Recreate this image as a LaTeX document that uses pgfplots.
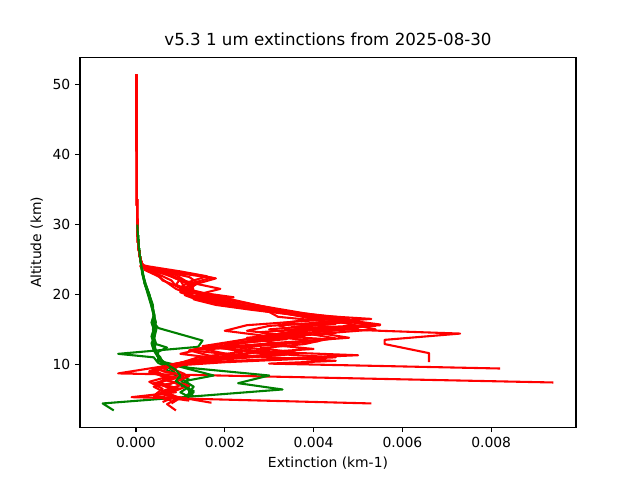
\documentclass[border=0pt]{standalone}
\usepackage{fontspec}
\setmainfont{DejaVu Sans}
\usepackage{pgfplots}
\pgfplotsset{compat=1.18}
\definecolor{mplgreen}{rgb}{0,0.5,0}
\begin{document}
\begin{tikzpicture}
\path[use as bounding box] (-57.6pt,-38.016pt) rectangle (403.2pt,307.584pt);
\begin{axis}[
    scale only axis,
    width=357.12pt, height=266.112pt,
    xmin=-0.00126, xmax=0.00991,
    ymin=1.0, ymax=53.9,
    scaled x ticks=false,
    xtick={0,0.002,0.004,0.006,0.008},
    xticklabels={0.000,0.002,0.004,0.006,0.008},
    ytick={10,20,30,40,50},
    xtick pos=bottom, ytick pos=left,
    tick align=outside, major tick length=3.5pt,
    tick style={black, line width=0.8pt},
    axis line style={line width=0.8pt},
    /pgf/number format/assume math mode=true,
    tick label style={font=\fontsize{10}{12}\selectfont},
    label style={font=\fontsize{10}{12}\selectfont},
    title style={font=\fontsize{12}{14}\selectfont, yshift=-1pt},
    title={v5.3 1 um extinctions from 2025-08-30},
    xlabel={Extinction (km-1)},
    ylabel={Altitude (km)},
    every axis plot/.append style={line width=1.5pt, no markers, line join=round},
]
% red profiles
\addplot[red] coordinates {(0.00001,51.5) (0.00001,45) (0.00002,40) (0.00002,35) (0.00003,30) (0.00005,27) (0.0001,25) (0.00015,24.2)
 (0.0003,24) (0.0010,23.3) (0.0016,22.6) (0.0012,21.8) (0.0010,21.0) (0.0014,20.3) (0.0022,19.6) (0.0016,19.0) (0.0022,18.3) (0.0035,17.2) (0.0053,16.5) (0.0042,16.0) (0.0030,15.5) (0.0025,14.8) (0.0036,14.0) (0.0025,13.2) (0.0018,12.5) (0.0024,11.8) (0.0014,11.0) (0.0010,10.2) (0.0006,9.5) (0.0004,8.8) (0.0007,8.0) (0.0005,7.2) (0.0008,6.5) (0.0006,5.8) (0.0009,5.0) (0.0007,4.3) (0.0009,3.4)};
\addplot[mplgreen] coordinates {(0.00003,30) (0.00006,27) (0.0001,25) (0.00015,23) (0.0002,21.5) (0.0003,20) (0.00038,18.5) (0.0004,17) (0.00035,16) (0.0004,15) (0.00038,14) (0.0004,13) (0.00045,12) (0.0005,11) (0.0006,10) (0.0007,9.2) (0.0009,8.5) (0.0010,7.8) (0.0011,7.0) (0.0012,6.2) (0.0012,5.5)};
\addplot[red] coordinates {(0.00001,51.5) (0.00001,45) (0.00002,40) (0.00002,35) (0.00003,30) (0.00005,27) (0.0001,25) (0.00015,24.2)
 (0.0004,23.5) (0.0009,22.8) (0.0011,22.0) (0.0013,21.2) (0.0012,20.5) (0.0016,19.6) (0.0025,18.4) (0.0040,16.9) (0.0055,15.6) (0.0045,15.2) (0.0040,14.6) (0.0048,13.8) (0.0030,13.0) (0.0020,12.4) (0.0028,11.6) (0.0045,11.0) (0.0020,10.3) (0.0006,9.7) (0.0003,9.0) (0.0008,8.2) (0.0005,7.4) (0.0009,6.6) (0.0006,5.9) (0.0010,5.2) (0.0008,4.4)};
\addplot[red] coordinates {(0.00001,51.5) (0.00001,45) (0.00002,40) (0.00002,35) (0.00003,30) (0.00005,27) (0.0001,25) (0.00015,24.2)
 (0.0003,23.8) (0.0007,23.0) (0.0010,22.2) (0.0009,21.4) (0.0012,20.6) (0.0011,19.9) (0.0014,19.2) (0.0022,18.4) (0.0030,17.5) (0.0032,16.8) (0.0045,16.0) (0.0035,15.3) (0.0055,14.8) (0.0073,14.4) (0.0056,13.5) (0.0056,12.9) (0.0066,11.6) (0.0066,10.3)};
\addplot[mplgreen] coordinates {(0.00003,30) (0.00006,27) (0.0001,25) (0.00015,23) (0.00022,21.5) (0.0003,20) (0.00036,18.5) (0.00042,17) (0.0004,16) (0.0005,15.2) (0.0015,13.4) (0.0014,12.5) (-0.0004,11.5) (0.0004,11.0) (0.0005,10.2) (0.0008,9.4) (0.0009,8.6) (0.0012,7.8) (0.0010,7.0) (0.0013,6.2) (0.0011,5.4)};
\addplot[red] coordinates {(0.00001,51.5) (0.00001,45) (0.00002,40) (0.00002,35) (0.00003,30) (0.00005,27) (0.0001,25) (0.00015,24.2)
 (0.0002,24) (0.0006,23.5) (0.0013,22.9) (0.0018,22.3) (0.0013,21.4) (0.0010,20.7) (0.0016,19.9) (0.0026,18.6) (0.0042,16.6) (0.0054,15.5) (0.0040,14.9) (0.0030,14.2) (0.0020,13.0) (0.0012,12.0) (0.0025,11.2) (0.0045,10.5) (0.0030,10.1) (0.0082,9.4)};
\addplot[red] coordinates {(0.00001,51.5) (0.00001,45) (0.00002,40) (0.00002,35) (0.00003,30) (0.00005,27) (0.0001,25) (0.00015,24.2)
 (0.0003,23.6) (0.0005,22.8) (0.0006,22.0) (0.0010,21.0) (0.0020,19.5) (0.0032,17.8) (0.0054,15.0) (0.0040,14.3) (0.0025,13.6) (0.0015,12.6) (0.0025,11.9) (0.0050,11.3) (0.0035,10.9) (0.0010,10.1) (-0.0004,8.7) (0.0094,7.4)};
\addplot[mplgreen] coordinates {(0.00003,30) (0.00006,27) (0.0001,25) (0.00016,23) (0.0002,21.5) (0.00028,20) (0.00035,18.5) (0.0004,17) (0.00045,16) (0.00038,15) (0.00042,14) (0.00035,13) (0.0004,12) (0.0005,11) (0.0005,10.5) (0.0012,9.5) (0.0030,8.4) (0.0023,7.3) (0.0033,6.4) (-0.00075,4.4) (-0.0005,3.4)};
\addplot[red] coordinates {(0.00001,51.5) (0.00001,45) (0.00002,40) (0.00002,35) (0.00003,30) (0.00005,27) (0.0001,25) (0.00015,24.2)
 (0.0001,24) (0.0004,23.2) (0.0008,22.0) (0.0009,21.2) (0.0012,20.3) (0.0024,18.8) (0.0038,17.3) (0.0050,16.2) (0.0035,15.3) (0.0045,14.5) (0.0030,13.8) (0.0020,12.8) (0.0030,12.0) (0.0020,11.0) (0.0010,10.0) (0.0008,9.0) (0.0011,8.0) (0.0007,7.0) (0.0009,6.0) (-0.0001,5.3) (0.0053,4.4)};
\addplot[red] coordinates {(0.00001,51.5) (0.00001,45) (0.00002,40) (0.00002,35) (0.00003,30) (0.00005,27) (0.0001,25) (0.00015,24.2)
 (0.0002,23.8) (0.0008,22.6) (0.0012,21.4) (0.0010,20.4) (0.0014,19.4) (0.0025,18.2) (0.0036,17.0) (0.0045,15.8) (0.0030,15.0) (0.0038,14.0) (0.0026,13.2) (0.0015,12.2) (0.0022,11.3) (0.0012,10.5) (0.0005,9.5) (0.0003,8.8) (0.0009,8.0) (0.0004,7.3) (0.0010,6.5) (0.0005,5.8) (0.0017,4.5)};
\addplot[mplgreen] coordinates {(0.00003,30) (0.00006,27) (0.0001,25) (0.00014,23) (0.0002,21.5) (0.00029,20) (0.00037,18.5) (0.0004,17) (0.00038,16) (0.00042,15) (0.0004,14) (0.00045,13) (0.0004,12) (0.00055,11) (0.0006,10.3) (0.00175,8.4) (0.0011,7.6) (0.0012,6.8) (0.0010,6.0) (0.0012,5.3)};
\addplot[red] coordinates {(0.00001,51.5) (0.00001,45) (0.00002,40) (0.00002,35) (0.00003,30) (0.00005,27) (0.0001,25) (0.00015,24.2)
 (0.0002,23.5) (0.0005,22.6) (0.0007,21.7) (0.0009,20.8) (0.0013,19.8) (0.0020,18.9) (0.0030,17.8) (0.0048,16.6) (0.0038,16.2) (0.0025,15.6) (0.0020,14.8) (0.0030,14.0) (0.0041,13.3) (0.0027,12.6) (0.0012,12.0) (0.0018,11.0) (0.0010,10.0) (0.0004,9.2) (0.0007,8.2) (0.0003,7.5) (0.0006,6.5) (0.0004,5.5) (0.0012,4.8)};
\addplot[red] coordinates {(0.00001,51.5) (0.00001,45) (0.00002,40) (0.00002,35) (0.00003,30) (0.00005,27) (0.0001,25) (0.00015,24.2)
 (0.0003,23.7) (0.0010,23.0) (0.0017,22.4) (0.0012,21.5) (0.0013,20.7) (0.0012,20.0) (0.0018,19.0) (0.0028,18.0) (0.0036,17.0) (0.0050,16.1) (0.0032,15.6) (0.0036,14.7) (0.0045,13.7) (0.0030,12.8) (0.0040,12.2) (0.0025,11.6) (0.0015,10.8) (0.0008,10.0) (0.0005,9.2) (0.0010,8.5) (0.0006,7.8) (0.0012,7.0) (0.0008,6.0) (0.0004,5.5) (0.0008,4.8)};
\addplot[mplgreen] coordinates {(0.00003,30) (0.00006,27) (0.0001,25) (0.00015,23) (0.00021,21.5) (0.0003,20) (0.00036,18.5) (0.00041,17) (0.00044,16) (0.0004,15) (0.00035,14) (0.0004,13) (0.0007,12.4) (0.0005,11.8) (0.0005,11) (0.00065,10) (0.0008,9.2) (0.0009,8.4) (0.0011,7.6) (0.0013,6.8) (0.0012,6.0) (0.0013,5.4)};
\addplot[red] coordinates {(0.00001,51.5) (0.00001,45) (0.00002,40) (0.00002,35) (0.00003,30) (0.00005,27) (0.0001,25) (0.00015,24.2)
 (0.0002,23.9) (0.0007,23.2) (0.0012,22.5) (0.0014,21.6) (0.0012,20.9) (0.0010,20.3) (0.0014,19.5) (0.0026,18.3) (0.0042,16.8) (0.0040,16.5) (0.0033,15.9) (0.0050,15.1) (0.0036,14.4) (0.0025,13.8) (0.0032,13.0) (0.0016,12.4) (0.0010,11.5) (0.0019,10.8) (0.0008,10.0) (0.0006,9.0) (0.0012,8.3) (0.0008,7.3) (0.0004,6.8) (0.0007,5.8) (0.0010,5.0)};
\addplot[red] coordinates {(0.00001,51.5) (0.00001,45) (0.00002,40) (0.00002,35) (0.00003,30) (0.00005,27) (0.0001,25) (0.00015,24.2)
 (0.0001,24.1) (0.0004,23.4) (0.0007,22.8) (0.0010,22.0) (0.0011,21.0) (0.0014,20.0) (0.0016,19.3) (0.0022,18.6) (0.0032,17.5) (0.0044,16.6) (0.0055,15.7) (0.0042,15.3) (0.0028,14.6) (0.0034,13.6) (0.0020,12.9) (0.0026,12.0) (0.0034,11.4) (0.0020,10.7) (0.0012,10.2) (0.0008,9.4) (0.0011,8.6) (0.0007,7.8) (0.0010,7.0) (0.0006,6.2) (0.0009,5.4) (0.0006,4.6)};
\addplot[red] coordinates {(0.00001,51.5) (0.00001,45) (0.00002,40) (0.00002,35) (0.00003,30) (0.00005,27) (0.0001,25) (0.00015,24.2)
 (0.0003,23.6) (0.0008,22.9) (0.0009,22.3) (0.0013,21.6) (0.0019,20.8) (0.0014,20.0) (0.0013,19.3) (0.0018,18.5) (0.0026,17.8) (0.0038,16.9) (0.0046,16.3) (0.0050,15.4) (0.0036,14.8) (0.0030,14.1) (0.0043,13.6) (0.0038,12.9) (0.0028,12.3) (0.0036,11.7) (0.0024,11.1) (0.0013,10.6) (0.0007,9.8) (0.0004,9.0) (0.0008,8.1) (0.0005,7.2) (0.0009,6.4) (0.0007,5.6)};
\addplot[mplgreen] coordinates {(0.00003,30) (0.00006,27) (0.0001,25) (0.00015,23) (0.0002,21.5) (0.00027,20) (0.00034,18.5) (0.0004,17) (0.00042,16) (0.00046,15) (0.00042,14) (0.00038,13) (0.00042,12) (0.0005,11) (0.0007,10) (0.0009,9.2) (0.0010,8.4) (0.0009,7.6) (0.0011,6.8) (0.0013,6.0) (0.0012,5.5)};
\end{axis}
\end{tikzpicture}
\end{document}
